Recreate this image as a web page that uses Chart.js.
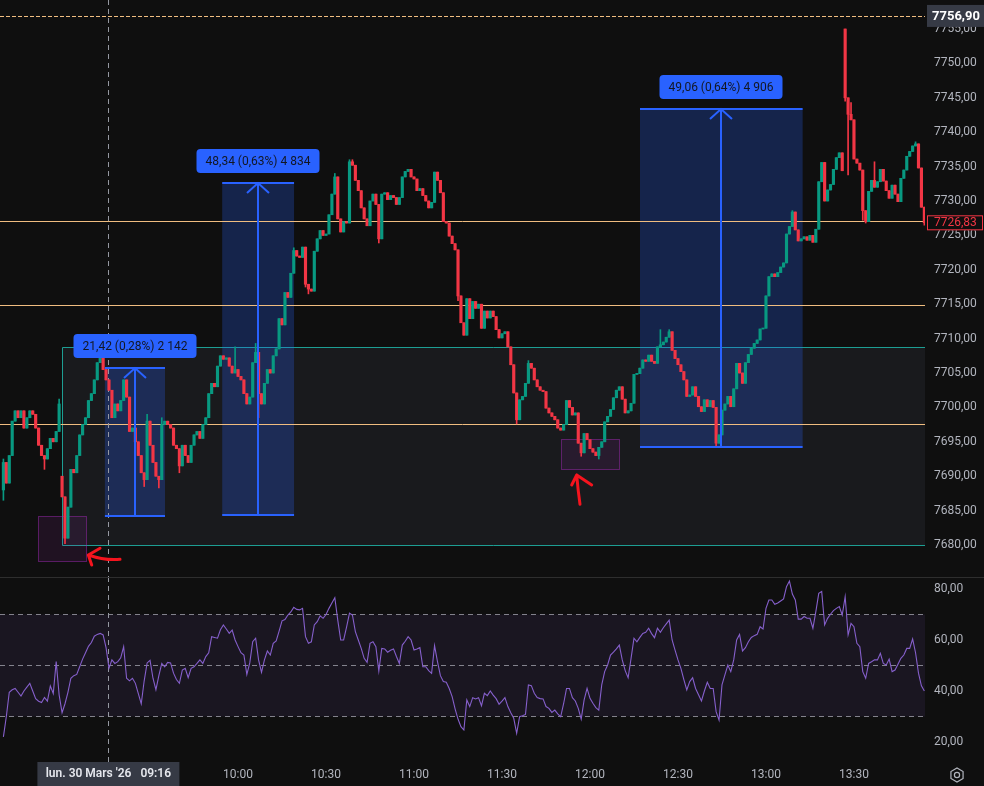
<!DOCTYPE html>
<html>
<head>
<meta charset="utf-8">
<script src="https://cdn.jsdelivr.net/npm/chart.js@4.4.1/dist/chart.umd.min.js"></script>
<style>
  html, body { margin: 0; padding: 0; background: #0f0f0f; overflow: hidden; }
  #wrap { position: relative; width: 984px; height: 786px; }
  #pricePane { position: absolute; left: 0; top: 0; }
  #rsiPane { position: absolute; left: 0; top: 577px; }
</style>
</head>
<body>
<div id="wrap">
  <canvas id="pricePane" width="984" height="577"></canvas>
  <canvas id="rsiPane" width="984" height="209"></canvas>
</div>
<script>
// 1-minute candles, 08:40 -> 13:54 (index 0 = 08:40)
const firstOpen = 7688;
const closes = [
  7692, 7689, 7693, 7698, 7699.5, 7698.5, 7699.5, 7697, 7698.5, 7699.5,
  7699, 7697, 7694.5, 7693, 7692.5, 7694, 7695.5, 7695, 7696.5, 7700.5,
  7687, 7681, 7685.5, 7691, 7690.5, 7693, 7696, 7697.5, 7698.5, 7701,
  7702, 7704, 7706.5, 7707.5, 7705.5, 7704, 7702.5, 7698.5, 7700.5, 7699.5,
  7701, 7704, 7701.5, 7696.5, 7697, 7695, 7693, 7690.5, 7689.5, 7698,
  7694.5, 7692, 7690, 7689.5, 7697.5, 7698, 7697.5, 7697, 7694.5, 7694,
  7691.5, 7694.5, 7693, 7692, 7694.5, 7696, 7696.5, 7695.5, 7697.5, 7698.5,
  7702, 7703.5, 7703, 7706, 7707.5, 7707, 7707.2, 7706, 7705, 7705.5,
  7704.5, 7704, 7702, 7700.5, 7701.5, 7706.5, 7708, 7702, 7700.5, 7703.5,
  7705.5, 7705, 7707.5, 7708.5, 7712.9, 7712, 7716.7, 7716, 7719.5, 7722.8,
  7722, 7721.8, 7723.3, 7717.9, 7717.2, 7716.9, 7722.7, 7724.5, 7725.7, 7725,
  7725.2, 7728, 7731, 7733.5, 7727.4, 7725.5, 7727, 7726.8, 7735.7, 7735.2,
  7733, 7731.5, 7729, 7727.4, 7726.4, 7730, 7731, 7729.5, 7724.5, 7731,
  7731.2, 7730.2, 7730.8, 7730.5, 7729.5, 7730.5, 7733.5, 7734.3, 7734.6, 7733.5,
  7733.2, 7731.5, 7731.8, 7730.8, 7730, 7729, 7729.8, 7734.2, 7733, 7731.2,
  7727, 7726.8, 7724.9, 7723.8, 7722.9, 7716.2, 7712.3, 7710.5, 7715.8, 7712.9,
  7715.4, 7714.4, 7715, 7711.5, 7714, 7713, 7714, 7713.2, 7711.3, 7710.1,
  7710.7, 7711, 7708.8, 7706.2, 7702.1, 7698.2, 7701.1, 7701.6, 7703.5, 7706.4,
  7705.7, 7704, 7703, 7702.5, 7702.3, 7699.9, 7699.2, 7698.7, 7698.2, 7697,
  7696.7, 7697.5, 7701, 7700, 7698.9, 7699.2, 7694.8, 7693.4, 7696.2, 7695.3,
  7694, 7693.5, 7693, 7694.2, 7695, 7697.9, 7698.7, 7699.7, 7701.4, 7702.5,
  7703, 7701.2, 7699.2, 7699.5, 7700.6, 7704.8, 7704.9, 7705.7, 7706.9, 7706.7,
  7707.6, 7706.7, 7706.4, 7708.8, 7709.1, 7709.5, 7710.2, 7711, 7708.3, 7707.1,
  7706.2, 7705.2, 7704, 7701.6, 7701.8, 7703, 7701.6, 7700.1, 7699.4, 7701.1,
  7700.1, 7701, 7700, 7694.8, 7696, 7699.6, 7700.5, 7701.6, 7700.1, 7702.7,
  7706.4, 7705, 7703.5, 7706.5, 7707.7, 7708.6, 7709.3, 7709.8, 7711.4, 7711.5,
  7716.2, 7719, 7719.4, 7719, 7719.6, 7720.4, 7721, 7725.2, 7726.3, 7728.4,
  7725.8, 7724.2, 7724.5, 7724.8, 7724.3, 7725, 7724, 7725.9, 7732.8, 7735.6,
  7730, 7731.6, 7732.4, 7734.6, 7736.3, 7737, 7734.4, 7745, 7742.6, 7741.8,
  7736.1, 7735.5, 7734.5, 7728.6, 7727, 7731.4, 7733, 7732, 7732.8, 7734.6,
  7732.9, 7731.5, 7730.4, 7732.3, 7731, 7729.9, 7733.3, 7734.5, 7736.5, 7737.2,
  7738, 7738.3, 7734.8, 7729.1, 7726.83
];
// candles that opened away from the previous close
const gapOpens = { 20: 7690, 287: 7755 };
// visible wicks (others stay inside the body)
const highs = { 0: 7692.5, 19: 7701.2, 21: 7686, 33: 7708.5, 49: 7699, 54: 7698.5, 79: 7708.8, 86: 7709.3,
  99: 7723.2, 113: 7734, 118: 7736, 119: 7736, 179: 7706.8, 224: 7711.3, 227: 7711.3, 269: 7728.6,
  287: 7755, 288: 7743.3, 289: 7744.3, 297: 7735.7, 311: 7738.6 };
const lows = { 0: 7686.5, 14: 7691, 21: 7680.2, 22: 7682, 48: 7688.5, 53: 7688.3, 60: 7690.5, 87: 7698.5,
  103: 7717.5, 104: 7716.5, 128: 7723.9, 155: 7715.5, 175: 7697.6, 197: 7692.9, 203: 7692.5, 243: 7694.2,
  278: 7729, 287: 7744.5, 288: 7733.8, 293: 7727.2, 294: 7726.8, 314: 7726.5 };

const rsi = [
  22, 30, 39.5, 40.5, 41, 39.5, 38, 40, 41.5, 43,
  40, 37, 36, 35.5, 37.5, 36, 42, 39, 51.5, 38.5,
  31.5, 35, 39.5, 45, 46, 46.5, 49.5, 52.5, 55, 57.5,
  59, 61.5, 62.2, 62.6, 62, 57, 48.9, 52.2, 50.8, 51.5,
  53, 57.4, 45, 44, 45, 43, 39, 35, 44, 51,
  52, 45, 40.5, 46, 50.8, 49.5, 51.2, 51, 47, 44.5,
  43, 48.2, 48.9, 45.2, 48.9, 49.5, 50.8, 52.2, 50.8, 53.5,
  55, 61.3, 61, 60.7, 64, 65.9, 64.3, 62.6, 63.9, 60,
  57.4, 55, 54.1, 46.5, 51, 59.3, 60.7, 52.2, 47.3, 52.2,
  55.7, 54.1, 58.7, 59.6, 63.5, 67.5, 68, 69.8, 71, 72.8,
  72, 71.8, 72.4, 61.3, 58.7, 59.3, 65.9, 67.2, 69.5, 68.5,
  70, 72.4, 74.5, 76.6, 67.8, 60, 60, 65, 70.5, 69.8,
  63.3, 60, 56.7, 52.8, 51.2, 58.7, 59.3, 57.4, 47.8, 56.7,
  56.5, 55.2, 56, 56.5, 53.5, 50.8, 58, 59.5, 61.3, 60,
  56.1, 56.5, 57, 49.5, 49.5, 48, 46.9, 57.8, 51.5, 46,
  43.7, 43.4, 41, 37.8, 33, 29, 26, 24.7, 36.5, 33.9,
  37.4, 36.9, 37.4, 34.2, 39.1, 38.2, 40, 38.4, 37, 34.8,
  36, 37.4, 33.9, 31.5, 29.3, 23.4, 29.9, 30.3, 30.8, 42.4,
  42.1, 39.1, 37.4, 37, 36.9, 33.9, 33.2, 31.6, 32.5, 31,
  29.9, 35, 41, 41, 37.4, 36.1, 33.2, 29, 36.5, 41,
  37.1, 35.2, 33.5, 32.5, 42.4, 47.6, 50.2, 54.1, 55.2, 56.5,
  58, 52.2, 48, 45.2, 52.8, 60.7, 59.3, 61, 62.6, 63,
  64.6, 62.5, 60.9, 64.6, 63, 64.8, 66.3, 67.8, 60, 56,
  52.2, 48.9, 44.5, 40.4, 43.7, 45.2, 41, 38.5, 36.1, 40,
  43.4, 41, 41, 31.9, 28.6, 42.4, 46.3, 50.2, 47.6, 52.2,
  60, 62.2, 55.7, 57, 59.3, 61, 61.7, 62.2, 65.2, 64.3,
  72.4, 75.7, 75.7, 74, 74.5, 75.3, 76.1, 80.9, 83.1, 78,
  75.7, 68.2, 68.2, 69.2, 68.5, 68.5, 64.6, 71.1, 78.3, 79,
  65.9, 68.5, 70.1, 71.5, 72.4, 73.1, 69.8, 77, 62, 66.5,
  65.2, 58.7, 57.4, 47.6, 45, 50.8, 51.5, 52.2, 52.2, 54.8,
  50.8, 50.2, 52.5, 47.6, 48.2, 50.5, 52.8, 54.1, 56.7, 56.7,
  60.4, 55, 47, 42, 40
];

const timeTickIdx = [80, 110, 140, 170, 200, 230, 260, 290];
const timeTickText = ['10:00', '10:30', '11:00', '11:30', '12:00', '12:30', '13:00', '13:30'];
const priceTicks = [7680, 7685, 7690, 7695, 7700, 7705, 7710, 7715, 7720, 7725, 7730, 7735, 7740, 7745, 7750, 7755];
const rsiTicks = [20, 40, 60, 80];
const rsiLevels = [70, 50, 30];

// drawings (time index, price)
const hLevels = [7727.1, 7714.9, 7697.6];
const alertLevel = 7756.9;
const lastPrice = 7726.83;
const zone = { from: 19.9, top: 7708.75, bottom: 7680.05 };
const spots = [
  { from: 11.9, to: 28.1, top: 7684.26, bottom: 7677.7 },
  { from: 190.1, to: 209.9, top: 7695.4, bottom: 7691.05 }
];
const ranges = [
  { from: 34.6, to: 55.1, low: 7684.28, high: 7705.70, text: '21,42 (0,28%) 2 142' },
  { from: 74.6, to: 99.1, low: 7684.30, high: 7732.64, text: '48,34 (0,63%) 4 834' },
  { from: 217.05, to: 272.5, low: 7694.30, high: 7743.36, text: '49,06 (0,64%) 4 906' }
];
const strokeA = { shaft: [[39.76, 7677.92], [34.64, 7677.72], [28.95, 7678.55]], armUp: [32.94, 7679.52], armDown: [30.11, 7677.09] };
const strokeB = { shaft: [[196.59, 7685.92], [195.9, 7687.99], [195.47, 7690.17]], armUp: [193.76, 7688.72], armDown: [200.58, 7688.72] };
const cursorIdx = 35.8;
const cursorText = "lun. 30 Mars '26   09:16";

const X_MIN = -1.16, X_MAX = 314.22;
const UP = '#089981', DOWN = '#f23645';
const FONT = "Roboto, 'Noto Sans', sans-serif";
const AXIS_TXT = '#b2b5be';

Chart.defaults.font.family = FONT;
Chart.defaults.font.size = 12;
Chart.defaults.color = AXIS_TXT;

const fmt = v => v.toFixed(2).replace('.', ',');

const opens = closes.map((c, i) => gapOpens[i] !== undefined ? gapOpens[i] : (i === 0 ? firstOpen : closes[i - 1]));
const colors = closes.map((c, i) => c >= opens[i] ? UP : DOWN);
const bodyData = closes.map((c, i) => ({ x: i, y: [opens[i], c] }));
const wickData = closes.map((c, i) => ({
  x: i,
  y: [Math.min(opens[i], c, lows[i] ?? Infinity), Math.max(opens[i], c, highs[i] ?? -Infinity)]
}));

function rightAxis(extra) {
  return Object.assign({
    position: 'right',
    grid: { display: false, drawTicks: false },
    border: { display: false },
    ticks: { color: AXIS_TXT, padding: 9, callback: v => fmt(v) },
    afterFit(s) {
      s.width = 59;
      // let the pane use the full canvas height
      s.paddingTop = 0;
      s.paddingBottom = 0;
    }
  }, extra);
}

function roundRect(ctx, x, y, w, h, r) {
  ctx.beginPath();
  ctx.moveTo(x + r, y);
  ctx.arcTo(x + w, y, x + w, y + h, r);
  ctx.arcTo(x + w, y + h, x, y + h, r);
  ctx.arcTo(x, y + h, x, y, r);
  ctx.arcTo(x, y, x + w, y, r);
  ctx.closePath();
}

const priceDrawings = {
  id: 'priceDrawings',
  beforeDatasetsDraw(chart) {
    const { ctx, chartArea: a, scales: { x, y } } = chart;
    ctx.save();
    ctx.beginPath(); ctx.rect(a.left, a.top, a.width, a.height); ctx.clip();

    // grey zone
    const zx = Math.round(x.getPixelForValue(zone.from)) + 0.5;
    const zt = Math.round(y.getPixelForValue(zone.top)) + 0.5;
    const zb = Math.round(y.getPixelForValue(zone.bottom)) + 0.5;
    ctx.fillStyle = 'rgba(110,120,150,0.11)';
    ctx.fillRect(zx, zt, a.right - zx, zb - zt);
    ctx.strokeStyle = '#1d9e93';
    ctx.lineWidth = 1;
    ctx.beginPath();
    ctx.moveTo(a.right, zt); ctx.lineTo(zx, zt); ctx.lineTo(zx, zb); ctx.lineTo(a.right, zb);
    ctx.stroke();

    // purple spots
    spots.forEach(s => {
      const l = Math.round(x.getPixelForValue(s.from)) + 0.5, r = Math.round(x.getPixelForValue(s.to)) + 0.5;
      const t = Math.round(y.getPixelForValue(s.top)) + 0.5, b = Math.round(y.getPixelForValue(s.bottom)) + 0.5;
      ctx.fillStyle = 'rgba(156,39,176,0.12)';
      ctx.fillRect(l, t, r - l, b - t);
      ctx.strokeStyle = 'rgba(156,39,176,0.5)';
      ctx.strokeRect(l, t, r - l, b - t);
    });

    // range fills
    ranges.forEach(m => {
      const l = x.getPixelForValue(m.from), r = x.getPixelForValue(m.to);
      const t = y.getPixelForValue(m.high), b = y.getPixelForValue(m.low);
      ctx.fillStyle = 'rgba(41,98,255,0.25)';
      ctx.fillRect(l, t, r - l, b - t);
    });

    // horizontal levels
    ctx.strokeStyle = '#f0bd80';
    ctx.lineWidth = 1;
    hLevels.forEach(v => {
      const py = Math.round(y.getPixelForValue(v)) + 0.5;
      ctx.beginPath(); ctx.moveTo(a.left, py); ctx.lineTo(a.right, py); ctx.stroke();
    });
    ctx.setLineDash([4, 2]);
    const ay = Math.round(y.getPixelForValue(alertLevel)) + 0.5;
    ctx.beginPath(); ctx.moveTo(a.left, ay); ctx.lineTo(a.right, ay); ctx.stroke();

    // crosshair
    ctx.setLineDash([5, 4]);
    ctx.strokeStyle = '#9598a1';
    const cx = Math.round(x.getPixelForValue(cursorIdx)) + 0.5;
    ctx.beginPath(); ctx.moveTo(cx, a.top); ctx.lineTo(cx, a.bottom); ctx.stroke();
    ctx.restore();
  },
  afterDatasetsDraw(chart) {
    const { ctx, chartArea: a, scales: { x, y } } = chart;
    ctx.save();
    ctx.beginPath(); ctx.rect(a.left, a.top, a.width, a.height); ctx.clip();

    ranges.forEach(m => {
      const l = x.getPixelForValue(m.from), r = x.getPixelForValue(m.to);
      const t = Math.round(y.getPixelForValue(m.high)), b = Math.round(y.getPixelForValue(m.low));
      const c = Math.round(x.getPixelForValue((m.from + m.to) / 2));
      ctx.strokeStyle = '#2962ff';
      ctx.lineWidth = 2;
      ctx.beginPath();
      ctx.moveTo(l, t); ctx.lineTo(r, t);
      ctx.moveTo(l, b); ctx.lineTo(r, b);
      ctx.moveTo(c, b); ctx.lineTo(c, t);
      ctx.moveTo(c - 11, t + 10); ctx.lineTo(c, t); ctx.lineTo(c + 11, t + 10);
      ctx.stroke();

      ctx.font = '12px ' + FONT;
      const w = Math.round(ctx.measureText(m.text).width) + 18;
      const lx = c - w / 2, ly = t - 34;
      ctx.fillStyle = '#2962ff';
      roundRect(ctx, lx, ly, w, 24, 4);
      ctx.fill();
      ctx.fillStyle = '#131722';
      ctx.textAlign = 'center';
      ctx.textBaseline = 'middle';
      ctx.fillText(m.text, c, ly + 12.5);
    });

    // red brush arrows
    ctx.strokeStyle = '#f5141e';
    ctx.lineWidth = 3;
    ctx.lineCap = 'round';
    ctx.lineJoin = 'round';
    [strokeA, strokeB].forEach(s => {
      const p = s.shaft.map(q => [x.getPixelForValue(q[0]), y.getPixelForValue(q[1])]);
      const up = [x.getPixelForValue(s.armUp[0]), y.getPixelForValue(s.armUp[1])];
      const dn = [x.getPixelForValue(s.armDown[0]), y.getPixelForValue(s.armDown[1])];
      ctx.beginPath();
      ctx.moveTo(p[0][0], p[0][1]);
      ctx.quadraticCurveTo(p[1][0], p[1][1], p[2][0], p[2][1]);
      ctx.moveTo(up[0], up[1]);
      ctx.lineTo(p[2][0], p[2][1]);
      ctx.lineTo(dn[0], dn[1]);
      ctx.stroke();
    });
    ctx.restore();
  },
  afterDraw(chart) {
    const { ctx, chartArea: a, scales: { y } } = chart;
    ctx.save();
    ctx.font = 'bold 13px ' + FONT;
    ctx.textBaseline = 'middle';
    ctx.textAlign = 'left';
    // alert level tag
    const ay = y.getPixelForValue(alertLevel);
    ctx.fillStyle = '#363a45';
    ctx.fillRect(a.right + 2, ay - 11, 984 - a.right - 2, 22);
    ctx.fillStyle = '#ffffff';
    ctx.fillText(fmt(alertLevel), a.right + 7, ay + 0.5);
    // last price tag
    const ly = y.getPixelForValue(lastPrice);
    ctx.fillStyle = '#0f0f0f';
    ctx.fillRect(a.right + 2, ly - 7.5, 55, 15);
    ctx.strokeStyle = DOWN;
    ctx.lineWidth = 1;
    ctx.strokeRect(a.right + 2.5, ly - 7, 55, 14);
    ctx.font = '12px ' + FONT;
    ctx.fillStyle = DOWN;
    ctx.fillText(fmt(lastPrice), a.right + 9, ly + 0.5);
    ctx.restore();
  }
};

const rsiDrawings = {
  id: 'rsiDrawings',
  beforeDatasetsDraw(chart) {
    const { ctx, chartArea: a, scales: { x, y } } = chart;
    ctx.save();
    const t = y.getPixelForValue(rsiLevels[0]), b = y.getPixelForValue(rsiLevels[2]);
    ctx.fillStyle = 'rgba(126,87,194,0.1)';
    ctx.fillRect(a.left, t, a.width, b - t);
    ctx.strokeStyle = 'rgba(160,160,170,0.8)';
    ctx.lineWidth = 1;
    ctx.setLineDash([5, 4]);
    rsiLevels.forEach(v => {
      const py = Math.round(y.getPixelForValue(v)) + 0.5;
      ctx.beginPath(); ctx.moveTo(a.left, py); ctx.lineTo(a.right, py); ctx.stroke();
    });
    ctx.strokeStyle = '#9598a1';
    const cx = Math.round(x.getPixelForValue(cursorIdx)) + 0.5;
    ctx.beginPath(); ctx.moveTo(cx, a.top); ctx.lineTo(cx, a.bottom + 2); ctx.stroke();
    ctx.restore();
  },
  afterDraw(chart) {
    const { ctx, chartArea: a, scales: { x } } = chart;
    ctx.save();
    // pane separator
    ctx.strokeStyle = '#2e2e2e';
    ctx.lineWidth = 1;
    ctx.beginPath(); ctx.moveTo(0, 0.5); ctx.lineTo(984, 0.5); ctx.stroke();
    // crosshair time tag
    const cx = x.getPixelForValue(cursorIdx);
    ctx.font = '600 12px ' + FONT;
    ctx.fillStyle = '#363a45';
    ctx.fillRect(cx - 71, a.bottom + 2, 142, 209 - a.bottom - 2);
    ctx.fillStyle = '#e6e8ee';
    ctx.textAlign = 'center';
    ctx.textBaseline = 'middle';
    ctx.fillText(cursorText, cx, a.bottom + 14);
    // settings icon
    const gx = 957, gy = a.bottom + 15;
    ctx.strokeStyle = AXIS_TXT;
    ctx.lineWidth = 1.2;
    ctx.beginPath();
    for (let k = 0; k < 6; k++) {
      const ang = Math.PI / 6 + k * Math.PI / 3;
      const px = gx + 7 * Math.cos(ang), py = gy + 7 * Math.sin(ang);
      if (k === 0) ctx.moveTo(px, py); else ctx.lineTo(px, py);
    }
    ctx.closePath();
    ctx.stroke();
    ctx.beginPath(); ctx.arc(gx, gy, 2.6, 0, Math.PI * 2); ctx.stroke();
    ctx.restore();
  }
};

new Chart(document.getElementById('pricePane'), {
  type: 'bar',
  data: {
    datasets: [
      { data: wickData, backgroundColor: colors, barThickness: 1, grouped: false, order: 2 },
      { data: bodyData, backgroundColor: colors, barThickness: 2.5, grouped: false, minBarLength: 1, order: 1 }
    ]
  },
  options: {
    responsive: false,
    animation: false,
    devicePixelRatio: 1,
    events: [],
    layout: { padding: 0 },
    plugins: { legend: { display: false }, tooltip: { enabled: false } },
    scales: {
      x: { type: 'linear', min: X_MIN, max: X_MAX, offset: false, display: false },
      y: rightAxis({
        min: 7675.35, max: 7759.215,
        afterBuildTicks(s) { s.ticks = priceTicks.map(v => ({ value: v })); }
      })
    }
  },
  plugins: [priceDrawings]
});

new Chart(document.getElementById('rsiPane'), {
  type: 'line',
  data: {
    datasets: [{
      data: rsi.map((v, i) => ({ x: i, y: v })),
      borderColor: '#8660cc',
      borderWidth: 1.1,
      pointRadius: 0,
      tension: 0
    }]
  },
  options: {
    responsive: false,
    animation: false,
    devicePixelRatio: 1,
    events: [],
    layout: { padding: 0 },
    plugins: { legend: { display: false }, tooltip: { enabled: false } },
    scales: {
      x: {
        type: 'linear', min: X_MIN, max: X_MAX, offset: false,
        grid: { display: false, drawTicks: false },
        border: { display: false },
        afterBuildTicks(s) { s.ticks = timeTickIdx.map(v => ({ value: v })); },
        afterFit(s) { s.height = 26; s.paddingLeft = 0; s.paddingRight = 0; },
        ticks: {
          color: AXIS_TXT, padding: 8, autoSkip: false, maxRotation: 0,
          callback: v => timeTickText[timeTickIdx.indexOf(v)]
        }
      },
      y: rightAxis({
        min: 12.94, max: 84.7,
        afterBuildTicks(s) { s.ticks = rsiTicks.map(v => ({ value: v })); }
      })
    }
  },
  plugins: [rsiDrawings]
});
</script>
</body>
</html>
